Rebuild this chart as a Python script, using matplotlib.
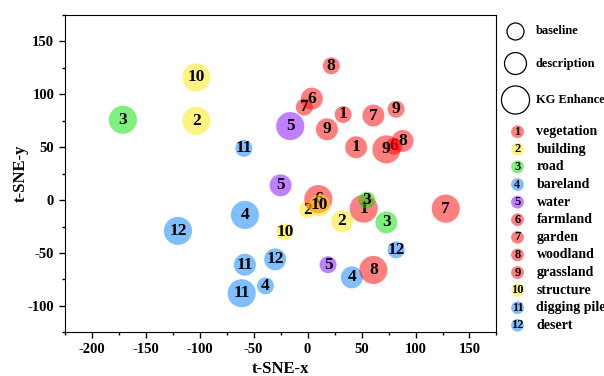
import numpy as np
import matplotlib.pyplot as plt
from matplotlib.ticker import MultipleLocator

plt.rcParams['font.family'] = ['Liberation Serif', 'DejaVu Serif']
plt.rcParams['font.weight'] = 'bold'
plt.rcParams['axes.unicode_minus'] = False

class_names = ['vegetation', 'building', 'road', 'bareland', 'water', 'farmland',
               'garden', 'woodland', 'grassland', 'structure', 'digging pile', 'desert']
class_colors = ['#ff0000', '#ffe800', '#00e000', '#0080ff', '#8000ff', '#ff0000',
                '#ff0000', '#ff0000', '#ff0000', '#ffe800', '#0080ff', '#0080ff']

methods = ['baseline', 'description', 'KG Enhance']
method_sizes = [150, 250, 410]

# t-SNE coordinates per class, one value per method (baseline, description, KG Enhance)
x_baseline = [33, 0, 55, -39, 19, 80, -3, 22, 82, -21, -59, 82]
y_baseline = [81, -9, 0, -81, -61, 51, 88, 127, 86, -30, 49, -47]
x_description = [45, 32, 73, 41, -25, 4, 61, 88, 18, 11, -58, -30]
y_description = [50, -20, -21, -73, 14, 96, 80, 56, 67, -5, -61, -56]
x_kg = [52, -103, -171, -58, -16, 10, 128, 61, 73, -103, -61, -120]
y_kg = [-8, 75, 76, -14, 70, 1, -8, -66, 48, 116, -88, -29]

xs = [x_baseline, x_description, x_kg]
ys = [y_baseline, y_description, y_kg]

fig = plt.figure(figsize=(6.04, 3.76), dpi=100)
ax = fig.add_axes([0.107, 0.116, 0.715, 0.844])

z = 2
for c in range(len(class_names)):
    for m in range(len(methods)):
        ax.scatter(xs[m][c], ys[m][c], s=method_sizes[m], color=class_colors[c],
                   alpha=0.5, edgecolors='none', zorder=z)
        ax.text(xs[m][c], ys[m][c], str(c + 1), ha='center', va='center',
                fontsize=12.5, fontweight='bold', zorder=z + 1)
        z += 2

ax.set_xlim(-225, 175)
ax.set_ylim(-125, 175)
ax.xaxis.set_major_locator(MultipleLocator(50))
ax.xaxis.set_minor_locator(MultipleLocator(25))
ax.yaxis.set_major_locator(MultipleLocator(50))
ax.yaxis.set_minor_locator(MultipleLocator(25))
ax.tick_params(which='both', direction='out', top=False, right=False, labelsize=10.5)
ax.tick_params(which='major', length=4, width=1)
ax.tick_params(which='minor', length=2.5, width=1)
ax.set_xticks(ax.get_xticks())
ax.set_xticklabels([f'{int(v)}' for v in ax.get_xticks()], fontweight='bold')
ax.set_yticks(ax.get_yticks())
ax.set_yticklabels([f'{int(v)}' for v in ax.get_yticks()], fontweight='bold')
ax.set_xlim(-225, 175)
ax.set_ylim(-125, 175)
ax.set_xlabel('t-SNE-x', fontsize=12, fontweight='bold', labelpad=4)
ax.set_ylabel('t-SNE-y', fontsize=12, fontweight='bold', labelpad=-1)

# legend drawn by hand in pixel coordinates on an overlay axes
lg = fig.add_axes([0, 0, 1, 1], facecolor='none')
lg.set_xlim(0, 604)
lg.set_ylim(376, 0)
lg.axis('off')

size_rows = [31.5, 63.5, 100]
for m in range(len(methods)):
    lg.scatter(515.5, size_rows[m], s=method_sizes[m], facecolors='none',
               edgecolors='black', linewidths=0.9, clip_on=False)
    lg.text(536, size_rows[m], methods[m], ha='left', va='center',
            fontsize=9, fontweight='bold', clip_on=False)

for c in range(len(class_names)):
    yy = 131.7 + c * 17.6
    lg.scatter(517.5, yy, s=85, color=class_colors[c], alpha=0.5,
               edgecolors='none', clip_on=False)
    lg.text(517.5, yy, str(c + 1), ha='center', va='center',
            fontsize=9, fontweight='bold', clip_on=False)
    lg.text(536.5, yy, class_names[c], ha='left', va='center',
            fontsize=10, fontweight='bold', clip_on=False)

fig.savefig('out.png', dpi=100)
